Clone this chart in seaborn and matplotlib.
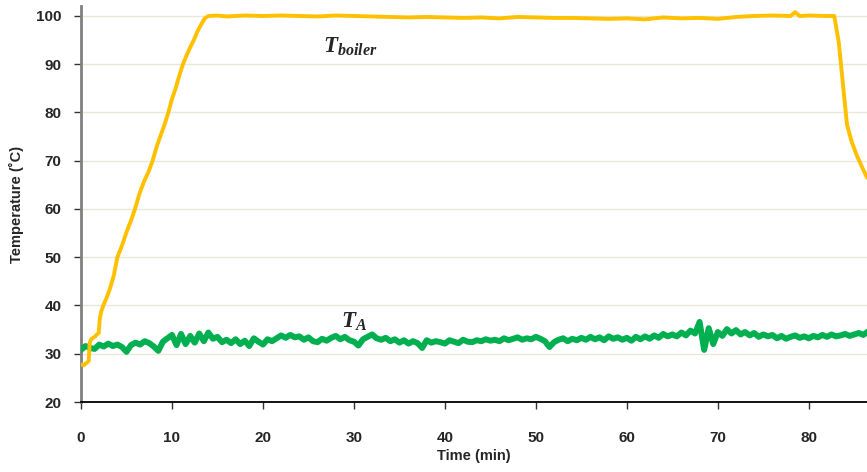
import numpy as np
import pandas as pd
import matplotlib
matplotlib.use("Agg")
import matplotlib.pyplot as plt
import seaborn as sns

# ---- data ----
ta_step = 0.5
ta_values = [
    30.8, 31.6, 31.2, 31.0, 31.9, 31.5, 32.1, 31.6, 31.9, 31.4,
    30.4, 31.8, 32.3, 31.9, 32.6, 32.2, 31.5, 30.6, 32.5, 33.2,
    33.9, 31.8, 34.1, 32.0, 33.7, 32.3, 34.2, 32.6, 34.4, 33.1,
    33.5, 32.4, 32.9, 32.2, 33.0, 32.0, 32.7, 31.6, 33.2, 32.5,
    31.9, 33.0, 32.6, 33.2, 33.8, 33.3, 33.9, 33.4, 33.6, 32.9,
    33.4, 32.6, 32.4, 33.1, 32.7, 33.3, 33.7, 33.0, 33.5, 32.8,
    32.5, 31.7, 33.0, 33.5, 34.0, 33.2, 32.9, 33.3, 32.6, 33.0,
    32.3, 32.8, 32.1, 32.6, 32.2, 31.2, 32.8, 32.3, 32.6, 32.4,
    32.1, 32.8, 32.5, 32.2, 32.9, 32.5, 32.4, 32.8, 32.6, 33.0,
    32.7, 32.9, 32.6, 33.2, 32.8, 33.1, 33.4, 32.9, 33.2, 33.0,
    33.5, 33.1, 32.6, 31.4, 32.4, 32.9, 33.2, 32.6, 33.1, 32.8,
    33.3, 32.9, 33.5, 33.0, 33.4, 32.8, 33.6, 33.1, 33.4, 32.9,
    33.3, 32.7, 33.5, 33.0, 33.6, 33.1, 33.8, 33.3, 34.1, 33.6,
    34.0, 33.6, 34.4, 33.8, 34.8, 34.2, 36.6, 30.8, 35.3, 32.0,
    34.5, 33.7, 35.1, 34.2, 34.9, 34.0, 34.5, 33.8, 34.3, 33.5,
    34.0, 33.6, 33.9, 33.2, 33.7, 33.1, 33.5, 33.8, 33.3, 33.6,
    33.2, 33.7, 33.4, 33.9, 33.5, 34.0, 33.6, 33.8, 34.1, 33.7,
    34.0, 34.3, 33.9, 34.6,
]
ta_time = [i * ta_step for i in range(len(ta_values))]

boiler_time = [
    0, 0.3, 0.6, 0.85, 0.95, 1.1, 1.5, 1.75, 1.95, 2.05, 2.2, 2.45, 2.8, 3.2,
    3.6, 4.0, 4.5, 5.0, 5.5, 5.93, 6.4, 6.9, 7.4, 7.87, 8.3, 8.8, 9.2, 9.6,
    10.0, 10.4, 10.8, 11.2, 11.6, 12.0, 12.4, 12.8, 13.2, 13.6, 14.0, 15, 16,
    18, 20, 22, 24, 26, 28, 30, 32, 34, 36, 38, 40, 42, 44, 46, 48, 50, 52,
    54, 56, 58, 60, 62, 64, 66, 68, 70, 72, 74, 76, 78, 78.5, 79, 80, 82,
    82.8, 83.3, 83.8, 84.2, 84.7, 85.3, 85.9, 86.4,
]
boiler_values = [
    27.8, 27.6, 28.1, 28.5, 32.2, 33.0, 33.5, 34.0, 34.3, 37.0, 38.6, 40.0,
    41.5, 43.6, 46.2, 50.0, 52.4, 55.2, 57.6, 60.0, 63.0, 65.6, 67.6, 70.0,
    72.8, 75.5, 77.6, 80.0, 82.8, 85.0, 87.6, 90.0, 91.8, 93.5, 95.0, 96.8,
    98.2, 99.5, 100.0, 100.1, 99.9, 100.1, 100.0, 100.1, 100.0, 99.9, 100.1,
    100.0, 99.9, 99.8, 99.7, 99.8, 99.7, 99.6, 99.7, 99.5, 99.8, 99.7, 99.6,
    99.6, 99.5, 99.4, 99.5, 99.3, 99.7, 99.5, 99.6, 99.4, 99.8, 100.0, 100.1,
    100.0, 100.8, 100.0, 100.1, 100.0, 100.0, 94.5, 85.0, 77.5, 74.0, 71.0,
    68.5, 66.5,
]

x_ticks = [0, 10, 20, 30, 40, 50, 60, 70, 80]
y_ticks = [20, 30, 40, 50, 60, 70, 80, 90, 100]

df_ta = pd.DataFrame({"time": ta_time, "temp": ta_values})
df_boiler = pd.DataFrame({"time": boiler_time, "temp": boiler_values})

# ---- style ----
sns.set_theme(style="white")
plt.rcParams["font.family"] = ["Liberation Sans", "DejaVu Sans"]
plt.rcParams["mathtext.fontset"] = "custom"
plt.rcParams["mathtext.bf"] = "Liberation Serif:bold:italic"
plt.rcParams["mathtext.rm"] = "Liberation Serif:bold:italic"
plt.rcParams["mathtext.it"] = "Liberation Serif:bold:italic"

fig = plt.figure(figsize=(8.67, 4.72), dpi=100)
ax = fig.add_axes([81 / 867, 1 - 402 / 472, 1 - 81 / 867, (402 - 6) / 472])

for yv in y_ticks[1:]:
    ax.axhline(yv, color="#EAE7DA", lw=1.0, zorder=0)

sns.lineplot(data=df_ta, x="time", y="temp", ax=ax, color="#00B050",
             lw=4.3, sort=False, estimator=None, zorder=3)
sns.lineplot(data=df_boiler, x="time", y="temp", ax=ax, color="#FFC000",
             lw=2.8, sort=False, estimator=None, zorder=4)

ax.set_xlim(0, 86.4)
ax.set_ylim(20, 102.07)
ax.set_xticks(x_ticks)
ax.set_yticks(y_ticks)
ax.set_xticklabels([str(v) for v in x_ticks], fontweight="bold", fontsize=11)
ax.set_yticklabels([str(v) for v in y_ticks], fontweight="bold", fontsize=11)
ax.tick_params(axis="x", direction="out", length=5, width=1, color="#333333",
               pad=16, bottom=True)
ax.tick_params(axis="y", direction="out", length=5, width=1, color="#333333",
               pad=9, left=True)

ax.set_xlabel("Time (min)", fontweight="bold", fontsize=10.5, labelpad=3)
ax.set_ylabel("Temperature (\u02daC)", fontweight="bold", fontsize=10.5,
              labelpad=9)

sns.despine(ax=ax, top=True, right=True)
ax.spines["left"].set_color("#808080")
ax.spines["left"].set_linewidth(2)
ax.spines["bottom"].set_color("#000000")
ax.spines["bottom"].set_linewidth(1.3)
ax.grid(False)

ax.text(26.6, 92.3, r"$\mathbf{T}_{\mathbf{boiler}}$", fontsize=16.5,
        ha="left", va="baseline", zorder=5)
ax.text(28.6, 35.4, r"$\mathbf{T}_{\mathbf{A}}$", fontsize=16.5,
        ha="left", va="baseline", zorder=5)

fig.savefig("out.png", dpi=100)
